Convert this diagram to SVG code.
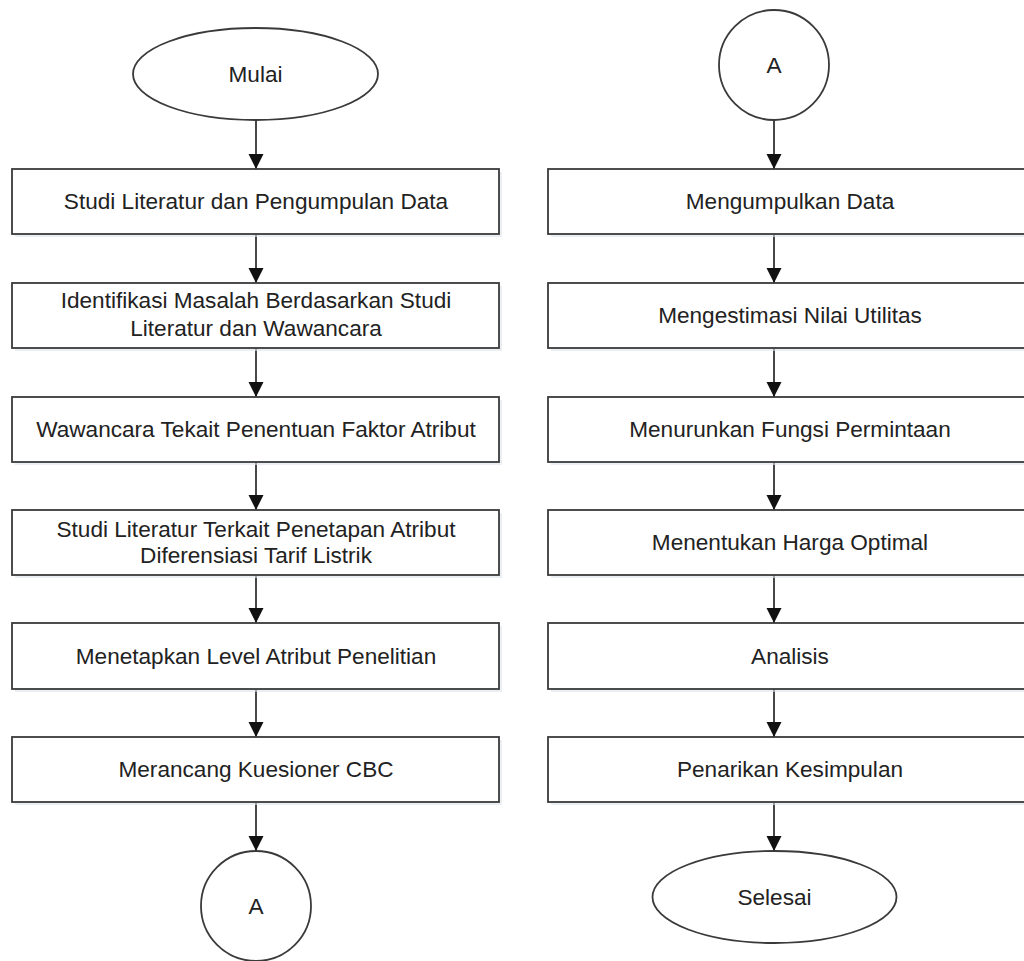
<svg xmlns="http://www.w3.org/2000/svg" width="1024" height="961" viewBox="0 0 1024 961">
<style>
.shape{fill:#ffffff;stroke:#3a3a3a;stroke-width:1.8}
.shadow{fill:#dde3ea;opacity:0.6}
.lbl{font-family:"Liberation Sans",Arial,sans-serif;font-size:22.6px;fill:#222222;text-anchor:middle}
.conn{stroke:#1a1a1a;stroke-width:1.6;fill:none}
</style>
<defs>
<marker id="arr" markerWidth="16" markerHeight="16" refX="15" refY="7.5" orient="auto" markerUnits="userSpaceOnUse" viewBox="0 0 16 16">
<path d="M0,0 L15,7.5 L0,15 Z" fill="#111111"/>
</marker>
</defs>
<rect width="1024" height="961" fill="#ffffff"/>

<g id="connectors">
<line class="conn" x1="256" y1="120" x2="256" y2="169" marker-end="url(#arr)"/>
<line class="conn" x1="256" y1="234" x2="256" y2="283" marker-end="url(#arr)"/>
<line class="conn" x1="256" y1="348" x2="256" y2="397" marker-end="url(#arr)"/>
<line class="conn" x1="256" y1="462" x2="256" y2="510" marker-end="url(#arr)"/>
<line class="conn" x1="256" y1="575" x2="256" y2="623" marker-end="url(#arr)"/>
<line class="conn" x1="256" y1="689" x2="256" y2="737" marker-end="url(#arr)"/>
<line class="conn" x1="256" y1="802" x2="256" y2="851" marker-end="url(#arr)"/>
<line class="conn" x1="774" y1="120" x2="774" y2="169" marker-end="url(#arr)"/>
<line class="conn" x1="774" y1="234" x2="774" y2="283" marker-end="url(#arr)"/>
<line class="conn" x1="774" y1="348" x2="774" y2="397" marker-end="url(#arr)"/>
<line class="conn" x1="774" y1="462" x2="774" y2="510" marker-end="url(#arr)"/>
<line class="conn" x1="774" y1="575" x2="774" y2="623" marker-end="url(#arr)"/>
<line class="conn" x1="774" y1="689" x2="774" y2="737" marker-end="url(#arr)"/>
<line class="conn" x1="774" y1="802" x2="774" y2="851" marker-end="url(#arr)"/>
</g>

<g id="mulai">
<ellipse class="shape" cx="255.5" cy="74" rx="122.5" ry="46"/>
<text class="lbl" x="255.5" y="82">Mulai</text>
</g>

<g id="studi-literatur">
<rect class="shadow" x="15" y="172" width="487" height="65"/>
<rect class="shape" x="12" y="169" width="487" height="65"/>
<text class="lbl" x="256" y="209">Studi Literatur dan Pengumpulan Data</text>
</g>

<g id="identifikasi">
<rect class="shadow" x="15" y="286" width="487" height="65"/>
<rect class="shape" x="12" y="283" width="487" height="65"/>
<text class="lbl" x="256" y="308">Identifikasi Masalah Berdasarkan Studi</text>
<text class="lbl" x="256" y="336">Literatur dan Wawancara</text>
</g>

<g id="wawancara">
<rect class="shadow" x="15" y="400" width="487" height="65"/>
<rect class="shape" x="12" y="397" width="487" height="65"/>
<text class="lbl" x="256" y="437">Wawancara Tekait Penentuan Faktor Atribut</text>
</g>

<g id="studi-terkait">
<rect class="shadow" x="15" y="513" width="487" height="65"/>
<rect class="shape" x="12" y="510" width="487" height="65"/>
<text class="lbl" x="256" y="537">Studi Literatur Terkait Penetapan Atribut</text>
<text class="lbl" x="256" y="563">Diferensiasi Tarif Listrik</text>
</g>

<g id="menetapkan">
<rect class="shadow" x="15" y="626" width="487" height="66"/>
<rect class="shape" x="12" y="623" width="487" height="66"/>
<text class="lbl" x="256" y="664">Menetapkan Level Atribut Penelitian</text>
</g>

<g id="merancang">
<rect class="shadow" x="15" y="740" width="487" height="65"/>
<rect class="shape" x="12" y="737" width="487" height="65"/>
<text class="lbl" x="256" y="777">Merancang Kuesioner CBC</text>
</g>

<g id="connector-a-out">
<circle class="shape" cx="256" cy="906" r="55"/>
<text class="lbl" x="256" y="914">A</text>
</g>

<g id="connector-a-in">
<circle class="shape" cx="774" cy="65" r="55"/>
<text class="lbl" x="774" y="73">A</text>
</g>

<g id="mengumpulkan">
<rect class="shadow" x="551" y="172" width="487" height="65"/>
<rect class="shape" x="548" y="169" width="487" height="65"/>
<text class="lbl" x="790" y="209">Mengumpulkan Data</text>
</g>

<g id="mengestimasi">
<rect class="shadow" x="551" y="286" width="487" height="65"/>
<rect class="shape" x="548" y="283" width="487" height="65"/>
<text class="lbl" x="790" y="323">Mengestimasi Nilai Utilitas</text>
</g>

<g id="menurunkan">
<rect class="shadow" x="551" y="400" width="487" height="65"/>
<rect class="shape" x="548" y="397" width="487" height="65"/>
<text class="lbl" x="790" y="437">Menurunkan Fungsi Permintaan</text>
</g>

<g id="menentukan">
<rect class="shadow" x="551" y="513" width="487" height="65"/>
<rect class="shape" x="548" y="510" width="487" height="65"/>
<text class="lbl" x="790" y="550">Menentukan Harga Optimal</text>
</g>

<g id="analisis">
<rect class="shadow" x="551" y="626" width="487" height="66"/>
<rect class="shape" x="548" y="623" width="487" height="66"/>
<text class="lbl" x="790" y="664">Analisis</text>
</g>

<g id="penarikan">
<rect class="shadow" x="551" y="740" width="487" height="65"/>
<rect class="shape" x="548" y="737" width="487" height="65"/>
<text class="lbl" x="790" y="777">Penarikan Kesimpulan</text>
</g>

<g id="selesai">
<ellipse class="shape" cx="774.5" cy="897" rx="122" ry="46"/>
<text class="lbl" x="774.5" y="905">Selesai</text>
</g>
</svg>
